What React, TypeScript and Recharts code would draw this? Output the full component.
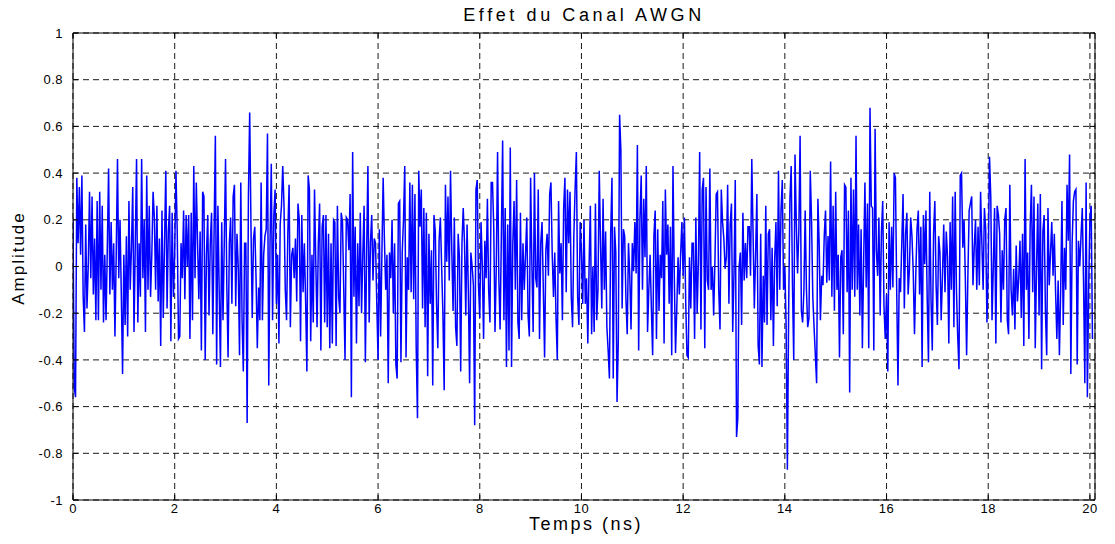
import { LineChart, Line, XAxis, YAxis, CartesianGrid } from 'recharts'

const STEP = 0.025

const w1 = [0.2, -0.52, -0.56, 0.38, 0.1, 0.34, 0.05, 0.39, -0.13, -0.28, 0.18, -0.18, 0.0, 0.32, -0.05, 0.3, -0.12, 0.12, -0.23, 0.28, -0.23, 0.32, -0.1, 0.26, -0.24, 0.05, -0.23, 0.08, 0.42, -0.12, 0.19, -0.1, 0.1, -0.3, 0.05, 0.46, -0.05, 0.2, -0.12, -0.46, 0.05, -0.25, 0.13, -0.3, 0.28, -0.1, 0.08, 0.34, -0.28, 0.1, 0.46, -0.24, 0.1, -0.13, 0.46, -0.05, 0.2, -0.28, 0.39, -0.1, 0.26, -0.13, 0.05, 0.32]
const w2 = [0.21, -0.1, 0.26, -0.15, 0.12, -0.34, 0.24, -0.22, 0.1, 0.41, -0.18, 0.15, 0.26, -0.32, 0.23, -0.13, 0.05, 0.41, 0.15, -0.31, -0.3, 0.1, -0.05, 0.24, -0.14, 0.22, 0.0, 0.22, -0.31, 0.23, -0.23, 0.43, -0.05, 0.36, 0.1, -0.14, 0.15, -0.36, 0.32, 0.3, -0.4, 0.05, 0.22, -0.21, 0.1, 0.23, -0.29, 0.15, 0.56, -0.42, 0.26, -0.1, -0.43, 0.19, -0.23, 0.1, 0.46, -0.08, -0.39, 0.1, 0.21, -0.16, 0.3, 0.35, -0.17, 0.14, 0.0, -0.38]
const w3 = [0.36, -0.23, -0.45, 0.1, 0.1, -0.67, 0.3, 0.66, 0.18, -0.22, 0.12, 0.17, -0.05, -0.35, -0.09, -0.23, 0.36, -0.23, 0.05, 0.13, 0.16, 0.57, -0.51, 0.1, 0.44, -0.23, 0.22, 0.33, -0.16, 0.05, -0.33, 0.18, 0.26, 0.43, 0.26, -0.1, -0.23, 0.14, 0.35, -0.26, 0.05, 0.08, -0.05, 0.12, -0.15, 0.27, 0.2, -0.32, 0.22, -0.11, 0.1, -0.15, -0.45, 0.39, 0.33, -0.32, 0.05, -0.24, 0.33, 0.02, -0.26, 0.1, 0.27, -0.36, 0.17, 0.22, -0.24]
const w4 = [0.22, -0.26, 0.14, -0.35, 0.1, -0.33, 0.2, 0.19, -0.34, 0.26, -0.13, -0.2, 0.23, 0.19, -0.1, -0.4, 0.21, 0.2, 0.07, 0.31, -0.56, 0.49, -0.13, 0.17, -0.33, 0.1, -0.17, 0.23, -0.2, 0.05, 0.26, -0.41, 0.06, 0.43, -0.24, 0.1, 0.22, -0.06, 0.12, 0.1, -0.16, -0.4, 0.16, -0.3, 0.05, 0.38, 0.11, -0.1, 0.05, -0.5, 0.06, -0.05, 0.2, -0.2, 0.1, -0.42, -0.48, 0.27, 0.28, -0.41, 0.06, 0.2, 0.43, -0.39, 0.04, -0.1, 0.36, -0.11]
const w5 = [0.35, -0.14, 0.31, -0.35, -0.65, 0.41, 0.17, 0.33, -0.18, 0.25, -0.26, 0.23, -0.47, 0.14, -0.16, 0.07, -0.51, 0.22, 0.15, -0.16, -0.35, 0.11, 0.21, 0.0, -0.2, -0.53, 0.35, 0.02, 0.3, -0.06, 0.41, 0.07, -0.19, 0.21, -0.26, -0.34, 0.14, 0.04, -0.45, 0.1, 0.25, 0.1, -0.21, 0.18, -0.1, -0.5, 0.06, 0.0, -0.08, -0.68, 0.33, 0.37, -0.08, -0.22, 0.19, 0.0, -0.31, 0.11, -0.05, 0.29, -0.1, -0.24, 0.36, 0.36, 0.17, -0.28, 0.0, 0.49]
const w6 = [-0.05, -0.27, 0.14, 0.54, -0.23, 0.25, -0.43, 0.18, -0.36, 0.51, -0.43, 0.1, 0.28, -0.1, 0.37, -0.24, -0.31, 0.23, -0.23, 0.1, -0.1, 0.05, 0.21, -0.21, -0.3, 0.38, 0.01, -0.28, 0.4, -0.05, -0.09, 0.33, -0.31, 0.1, 0.19, -0.1, -0.39, 0.07, 0.14, -0.04, 0.31, 0.36, 0.05, -0.13, 0.06, -0.22, -0.4, 0.28, -0.03, 0.1, -0.23, 0.25, 0.38, -0.11, 0.33, 0.1, 0.32, -0.13, -0.26, 0.13, 0.33, 0.49, -0.13, -0.25, 0.19, 0.06, -0.16]
const w7 = [0.2, -0.16, -0.05, -0.33, 0.0, 0.26, -0.29, 0.0, -0.28, 0.27, -0.23, -0.1, 0.41, 0.1, -0.18, 0.29, -0.1, 0.15, -0.26, -0.36, -0.48, 0.14, 0.38, -0.48, 0.17, 0.06, -0.58, -0.31, 0.65, 0.5, -0.18, 0.16, 0.13, -0.14, -0.29, 0.1, -0.04, -0.27, 0.1, -0.02, 0.19, -0.03, 0.52, -0.36, 0.2, 0.39, -0.1, 0.29, 0.04, 0.43, -0.28, -0.1, 0.05, -0.18, -0.38, 0.13, 0.24, -0.31, 0.16, -0.19, 0.05, -0.05, 0.28, -0.33, 0.33, 0.05, 0.18, -0.16]
const w8 = [0.17, -0.38, 0.43, -0.03, -0.37, -0.18, 0.04, -0.12, 0.05, 0.19, -0.04, 0.21, -0.15, -0.38, -0.39, 0.04, -0.18, 0.1, 0.1, -0.31, 0.21, -0.2, 0.02, 0.49, -0.27, 0.33, 0.38, -0.35, 0.34, -0.06, -0.1, 0.42, -0.1, 0.0, -0.21, 0.02, 0.31, 0.32, -0.1, -0.27, 0.33, 0.19, 0.12, -0.01, 0.04, 0.35, -0.16, 0.18, 0.27, -0.28, -0.03, 0.37, -0.73, -0.65, 0.0, 0.06, -0.25, 0.23, -0.06, 0.1, -0.05, 0.17, 0.17, -0.04, 0.46, 0.14, -0.18, 0.05]
const w9 = [0.31, -0.34, -0.42, 0.14, -0.43, -0.04, -0.24, 0.26, -0.25, 0.14, 0.16, -0.23, 0.08, -0.34, 0.03, 0.19, -0.17, 0.41, -0.1, 0.24, 0.37, -0.1, 0.0, -0.25, -0.87, -0.19, 0.29, 0.43, -0.08, -0.4, 0.48, 0.19, -0.03, 0.15, 0.56, -0.19, -0.24, -0.1, 0.24, -0.1, -0.26, -0.22, 0.41, 0.2, -0.13, -0.26, -0.38, -0.5, 0.29, 0.1, -0.23, -0.04, -0.08, 0.13, 0.24, -0.07, 0.13, -0.06, 0.45, -0.13, 0.26, -0.19, 0.32, -0.1, 0.05, -0.39, 0.04]
const w10 = [0.07, -0.29, 0.35, 0.34, -0.11, 0.24, -0.54, 0.38, -0.1, 0.33, -0.13, 0.56, -0.1, 0.18, -0.21, 0.16, -0.35, 0.02, 0.36, -0.09, 0.27, -0.35, 0.68, 0.26, 0.25, -0.36, 0.59, 0.07, -0.04, 0.21, -0.21, 0.15, 0.28, -0.17, -0.31, -0.12, -0.45, 0.19, -0.1, 0.17, -0.09, 0.4, 0.38, -0.1, -0.51, -0.05, -0.11, 0.1, 0.31, -0.18, 0.14, 0.23, -0.12, -0.01, 0.21, 0.13, -0.02, -0.29, -0.04, 0.16, 0.24, -0.12, 0.17, -0.43, 0.22, 0.01, 0.24, -0.14]
const w11 = [-0.41, 0.32, -0.14, -0.36, 0.14, 0.28, -0.08, -0.25, 0.13, 0.06, -0.23, -0.04, 0.18, -0.11, 0.15, 0.04, -0.33, 0.19, -0.1, 0.3, -0.26, 0.32, -0.1, -0.3, -0.44, 0.39, 0.4, 0.08, 0.2, -0.05, -0.38, -0.04, 0.24, 0.27, 0.3, -0.08, 0.08, 0.2, -0.1, 0.17, -0.08, 0.32, 0.1, -0.1, 0.25, 0.16, -0.24, 0.0, 0.47, 0.3, -0.23, 0.0, 0.25, -0.33, 0.26, 0.22, 0.14, -0.24, 0.07, -0.1, 0.2, 0.25, -0.23, -0.29, 0.35, -0.1, -0.21, -0.01]
const w12 = [-0.27, 0.09, -0.15, -0.05, 0.11, -0.22, 0.14, -0.34, 0.46, -0.1, 0.06, -0.31, 0.17, 0.35, -0.11, 0.3, -0.35, -0.01, 0.27, -0.21, 0.31, -0.44, 0.15, 0.22, -0.19, -0.38, 0.25, -0.08, 0.06, 0.19, -0.04, 0.14, -0.11, -0.31, -0.06, -0.38, -0.1, 0.28, -0.25, 0.08, -0.1, 0.35, 0.11, 0.48, -0.46, 0.1, 0.28, 0.32, 0.33, -0.42, 0.11, 0.0, 0.13, 0.25, -0.07, -0.5, 0.36, -0.56, -0.1, 0.21, 0.26, -0.31]

const xTicks = [0, 2, 4, 6, 8, 10, 12, 14, 16, 18, 20]
const yTicks = [-1, -0.8, -0.6, -0.4, -0.2, 0, 0.2, 0.4, 0.6, 0.8, 1]

const amplitudes = [w1, w2, w3, w4, w5, w6, w7, w8, w9, w10, w11, w12].flat()
const data = amplitudes.map((v, i) => ({ t: Math.round(i * STEP * 1000) / 1000, v }))

const font = '"Liberation Sans", Arial, Helvetica, sans-serif'
const tickStyle = { fill: '#000', fontSize: 13, fontFamily: font, letterSpacing: 0.5 }
const blank = () => ''

export default function App() {
  return (
    <div
      style={{
        position: 'absolute',
        left: 0,
        top: 0,
        width: 1115,
        height: 544,
        background: '#fff',
        fontFamily: font,
        color: '#000',
      }}
    >
      <div
        style={{
          position: 'absolute',
          left: 334,
          top: 5,
          width: 500,
          textAlign: 'center',
          fontSize: 18,
          letterSpacing: 3.6,
        }}
      >
        Effet du Canal AWGN
      </div>
      <div
        style={{
          position: 'absolute',
          left: 486,
          top: 514,
          width: 200,
          textAlign: 'center',
          fontSize: 18,
          letterSpacing: 2.5,
        }}
      >
        Temps (ns)
      </div>
      <div
        style={{
          position: 'absolute',
          left: -41,
          top: 248,
          width: 120,
          textAlign: 'center',
          fontSize: 17,
          letterSpacing: 2,
          transform: 'rotate(-90deg)',
        }}
      >
        Amplitude
      </div>
      <div style={{ position: 'absolute', left: 0, top: 0 }}>
        <LineChart width={1115} height={544} data={data} margin={{ top: 32, right: 19, bottom: 0, left: 13 }}>
          <CartesianGrid xAxisId="b" yAxisId="l" stroke="#1a1a1a" strokeDasharray="6 4" />
          <XAxis
            xAxisId="b"
            dataKey="t"
            type="number"
            domain={[0, 20.1]}
            allowDataOverflow
            ticks={xTicks}
            interval={0}
            height={44}
            tickSize={-5}
            tickMargin={9}
            stroke="#000"
            tick={tickStyle}
          />
          <XAxis
            xAxisId="t"
            orientation="top"
            dataKey="t"
            type="number"
            domain={[0, 20.1]}
            allowDataOverflow
            ticks={xTicks}
            interval={0}
            height={1}
            tickSize={-5}
            tickFormatter={blank}
            stroke="#000"
          />
          <YAxis
            yAxisId="l"
            type="number"
            domain={[-1, 1]}
            allowDataOverflow
            ticks={yTicks}
            interval={0}
            width={60}
            tickSize={-5}
            tickMargin={15}
            stroke="#000"
            tick={tickStyle}
          />
          <YAxis
            yAxisId="r"
            orientation="right"
            type="number"
            domain={[-1, 1]}
            allowDataOverflow
            ticks={yTicks}
            interval={0}
            width={1}
            tickSize={-5}
            tickFormatter={blank}
            stroke="#000"
          />
          <Line
            xAxisId="b"
            yAxisId="l"
            type="linear"
            dataKey="v"
            stroke="#0000ff"
            strokeWidth={1.5}
            dot={false}
            isAnimationActive={false}
          />
          <Line
            xAxisId="t"
            yAxisId="r"
            type="linear"
            dataKey="v"
            stroke="none"
            dot={false}
            legendType="none"
            isAnimationActive={false}
          />
        </LineChart>
      </div>
    </div>
  )
}
